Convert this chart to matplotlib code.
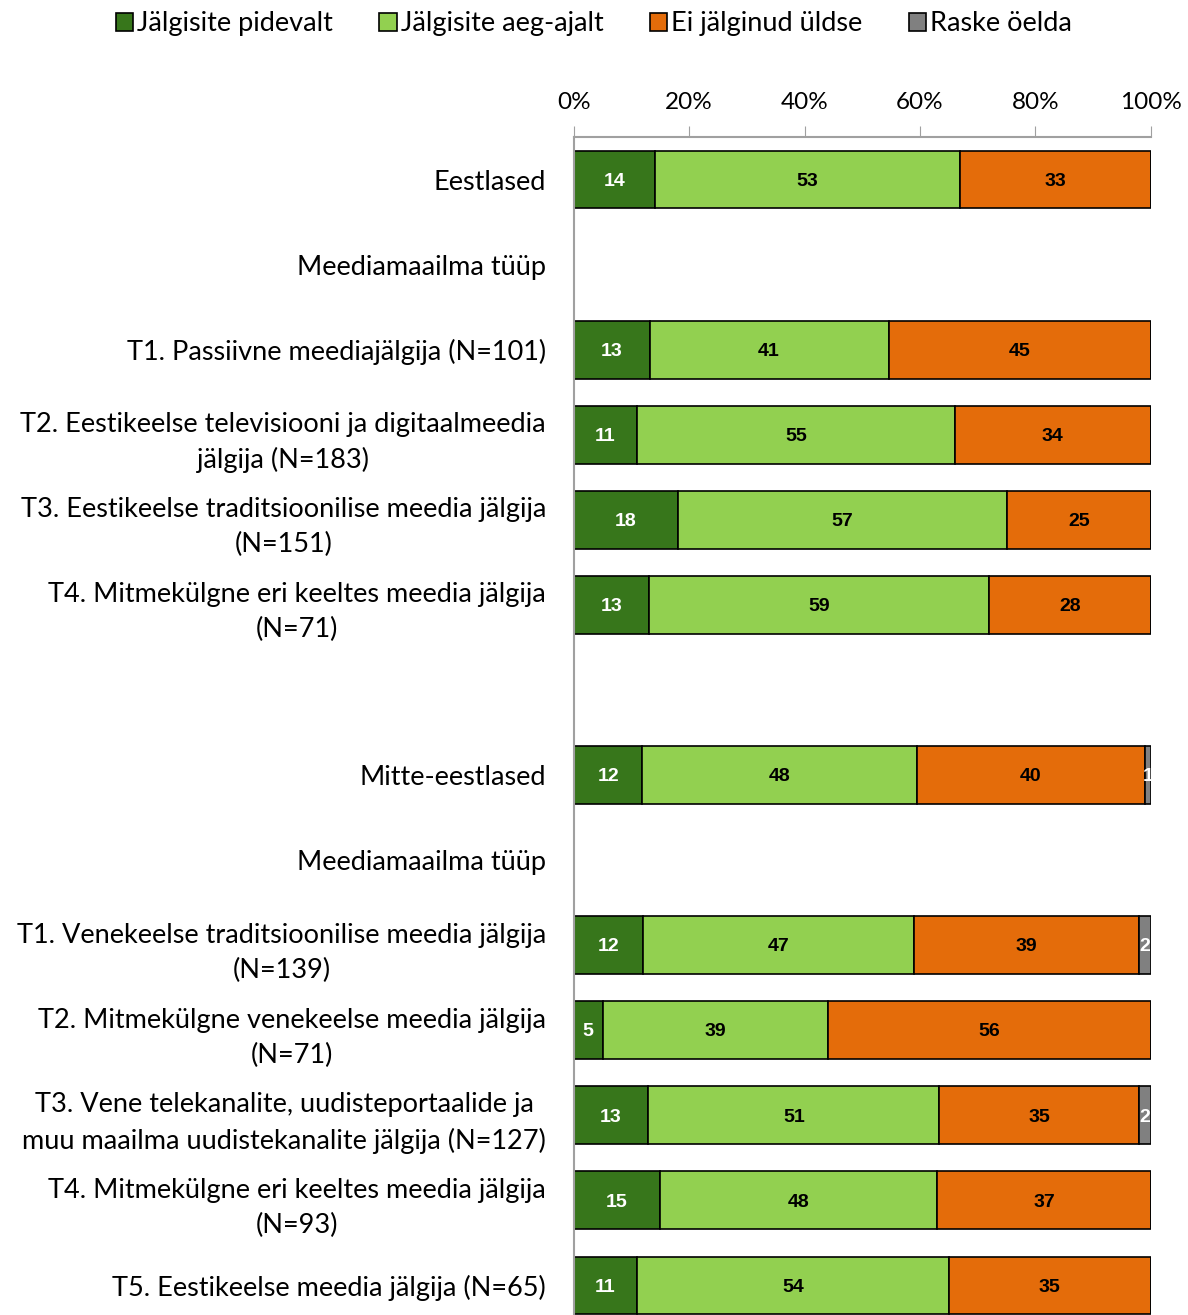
import matplotlib
matplotlib.use("Agg")
import matplotlib.pyplot as plt
import numpy as np

# rows top to bottom, blank rows are group headers / spacers
labels = [
    "Eestlased",
    "Meediamaailma tüüp",
    "T1. Passiivne meediajälgija (N=101)",
    "T2. Eestikeelse televisiooni ja digitaalmeedia\njälgija (N=183)",
    "T3. Eestikeelse traditsioonilise meedia jälgija\n(N=151)",
    "T4. Mitmekülgne eri keeltes meedia jälgija\n(N=71)",
    "",
    "Mitte-eestlased",
    "Meediamaailma tüüp",
    "T1. Venekeelse traditsioonilise meedia jälgija\n(N=139)",
    "T2. Mitmekülgne venekeelse meedia jälgija\n(N=71)",
    "T3. Vene telekanalite, uudisteportaalide ja\nmuu maailma uudistekanalite jälgija (N=127)",
    "T4. Mitmekülgne eri keeltes meedia jälgija\n(N=93)",
    "T5. Eestikeelse meedia jälgija (N=65)",
]
pidevalt = [14, 0, 13, 11, 18, 13, 0, 12, 0, 12, 5, 13, 15, 11]
aeg_ajalt = [53, 0, 41, 55, 57, 59, 0, 48, 0, 47, 39, 51, 48, 54]
ei_jalginud = [33, 0, 45, 34, 25, 28, 0, 40, 0, 39, 56, 35, 37, 35]
raske = [0, 0, 0, 0, 0, 0, 0, 1, 0, 2, 0, 2, 0, 0]

series = ["Jälgisite pidevalt", "Jälgisite aeg-ajalt", "Ei jälginud üldse", "Raske öelda"]
colors = ["#37761b", "#92d050", "#e46c0a", "#808080"]
text_colors = ["white", "black", "black", "white"]

data = np.array([pidevalt, aeg_ajalt, ei_jalginud, raske], dtype=float)
totals = data.sum(axis=0)
shares = np.divide(data * 100, totals, out=np.zeros_like(data), where=totals > 0)

font = ["Lato", "DejaVu Sans"]
plt.rcParams["font.family"] = font

fig = plt.figure(figsize=(11.88, 13.15), dpi=100)
ax = fig.add_axes([0.483, -0.0099, 0.4857, 0.9057])

y = np.arange(len(labels))
left = np.zeros(len(labels))
for i, name in enumerate(series):
    bars = ax.barh(y, shares[i], left=left, height=0.68, color=colors[i],
                   edgecolor="black", linewidth=1.2, label=name)
    for j, b in enumerate(bars):
        if data[i, j] > 0:
            ax.text(left[j] + shares[i, j] / 2, y[j] + 0.02, f"{int(data[i, j])}",
                    ha="center", va="center", color=text_colors[i],
                    fontsize=14, fontweight="bold", family="Liberation Sans")
    left += shares[i]

ax.set_xlim(0, 100)
ax.set_ylim(len(labels) - 0.5, -0.5)
ax.xaxis.tick_top()
ax.set_xticks(np.arange(0, 101, 20))
ax.set_xticklabels([f"{v}%" for v in range(0, 101, 20)], fontsize=17.5)
ax.tick_params(axis="x", direction="out", length=8, color="#a0a0a0", pad=9)
ax.set_yticks(y)
ax.set_yticklabels(labels, fontsize=19.5)
for t in ax.get_yticklabels():
    t.set_multialignment("center")
    t.set_linespacing(1.5)
ax.tick_params(axis="y", length=0, pad=20)

for s in ["right", "bottom"]:
    ax.spines[s].set_visible(False)
for s in ["top", "left"]:
    ax.spines[s].set_color("#a0a0a0")
    ax.spines[s].set_linewidth(1.5)

fig.legend(loc="upper center", bbox_to_anchor=(0.5, 1.01), ncol=4, frameon=False,
           fontsize=19.5, handlelength=0.65, handleheight=0.65, handletextpad=0.15,
           columnspacing=1.7)

fig.savefig("out.png", dpi=100)
